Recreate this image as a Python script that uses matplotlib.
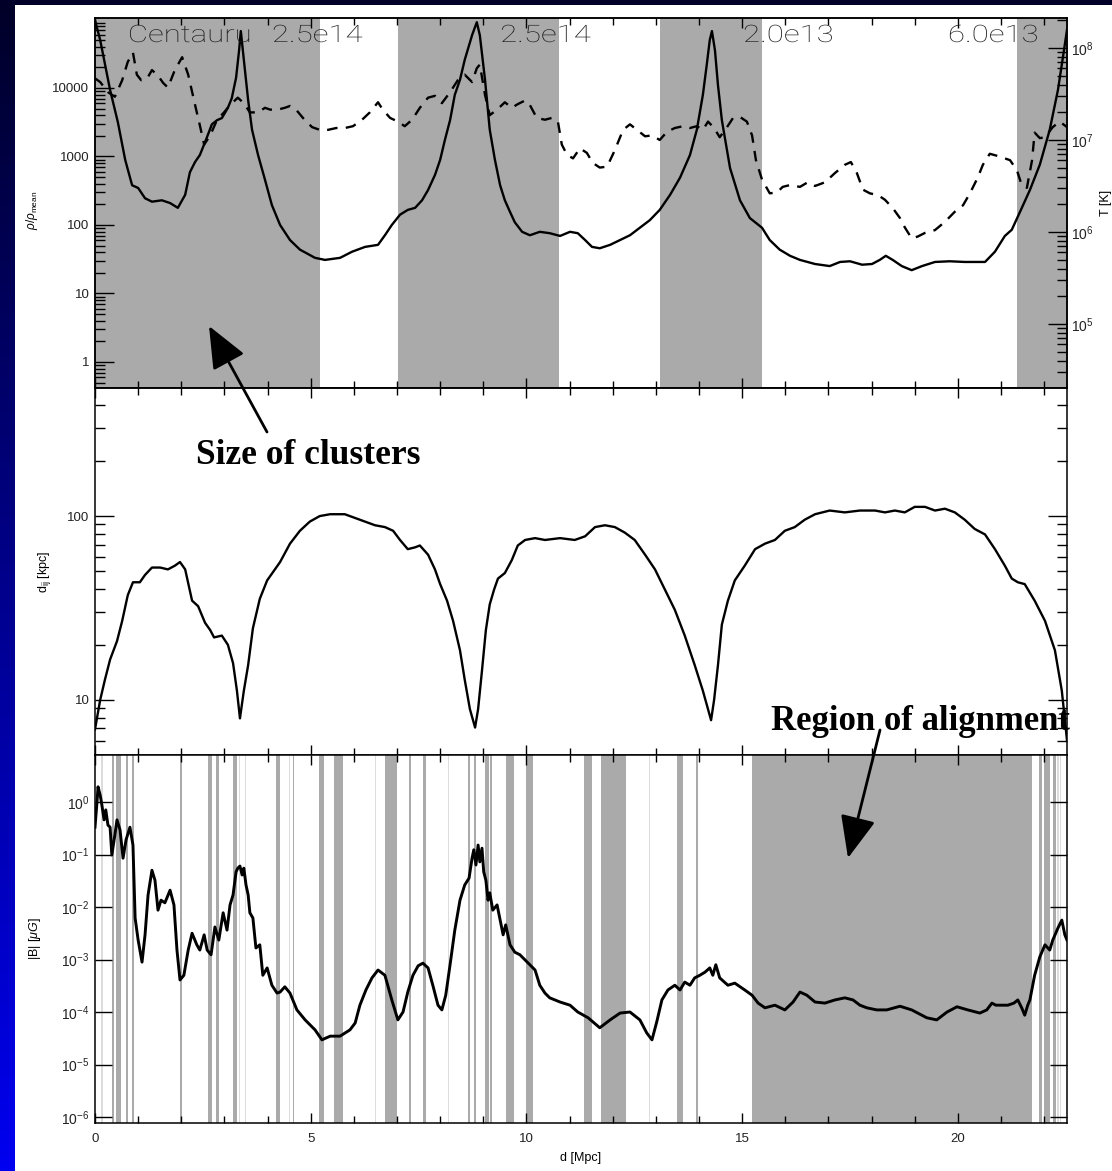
import numpy as np
import matplotlib
matplotlib.use('Agg')
import matplotlib.pyplot as plt
import matplotlib.transforms as mtransforms
from matplotlib.colors import LinearSegmentedColormap
from matplotlib.patches import Rectangle, FancyArrowPatch, PathPatch
from matplotlib.textpath import TextPath
from matplotlib.font_manager import FontProperties
from matplotlib.ticker import (MultipleLocator, LogLocator, FixedLocator, NullLocator,
                               FuncFormatter, LogFormatterMathtext, NullFormatter)

plt.rcParams['font.family'] = ['Liberation Sans', 'DejaVu Sans']
plt.rcParams['mathtext.fontset'] = 'custom'
plt.rcParams['mathtext.rm'] = 'Liberation Sans'
plt.rcParams['mathtext.it'] = 'Liberation Sans:italic'

# --- data (d in Mpc, values as log10) ---
# density rho/rho_mean (top panel, solid)
rho_d = [0, 0.12, 0.35, 0.53, 0.70, 0.86, 1.00, 1.16, 1.32, 1.55, 1.74, 1.92, 2.09, 2.20, 2.32,
         2.43, 2.57, 2.71, 2.83, 2.94, 3.08, 3.17, 3.27, 3.34, 3.38, 3.45, 3.55, 3.64, 3.78,
         3.94, 4.10, 4.29, 4.52, 4.75, 5.10, 5.33, 5.68, 5.96, 6.26, 6.56, 6.72, 6.88, 7.07,
         7.25, 7.42, 7.58, 7.72, 7.88, 8.00, 8.11, 8.23, 8.34, 8.46, 8.57, 8.74, 8.85, 8.92,
         9.04, 9.15, 9.27, 9.39, 9.50, 9.62, 9.73, 9.90, 10.08, 10.31, 10.54, 10.78, 11.01,
         11.19, 11.36, 11.52, 11.70, 11.94, 12.17, 12.40, 12.63, 12.86, 13.09, 13.33, 13.56,
         13.79, 13.95, 14.09, 14.18, 14.25, 14.30, 14.37, 14.44, 14.53, 14.72, 14.95, 15.18,
         15.46, 15.64, 15.87, 16.11, 16.34, 16.69, 17.03, 17.27, 17.50, 17.78, 18.01, 18.19,
         18.33, 18.49, 18.70, 18.93, 19.17, 19.47, 19.81, 20.16, 20.63, 20.86, 21.09, 21.25,
         21.44, 21.67, 21.90, 22.13, 22.32, 22.46, 22.53]
rho_log = [4.99, 4.70, 3.97, 3.50, 2.95, 2.58, 2.54, 2.39, 2.34, 2.36, 2.32, 2.25, 2.44, 2.77, 2.92,
           3.02, 3.24, 3.47, 3.53, 3.56, 3.71, 3.85, 4.15, 4.55, 4.83, 4.41, 3.82, 3.39, 3.02,
           2.66, 2.29, 2.00, 1.78, 1.64, 1.52, 1.49, 1.52, 1.61, 1.68, 1.71, 1.85, 2.00, 2.15,
           2.22, 2.25, 2.36, 2.51, 2.73, 2.95, 3.24, 3.53, 3.90, 4.12, 4.41, 4.77, 4.96, 4.77,
           4.12, 3.39, 2.95, 2.58, 2.36, 2.19, 2.04, 1.90, 1.85, 1.90, 1.88, 1.84, 1.90,
           1.88, 1.78, 1.68, 1.66, 1.71, 1.78, 1.85, 1.96, 2.07, 2.22, 2.44, 2.69,
           3.02, 3.39, 3.90, 4.34, 4.70, 4.83, 4.55, 4.04, 3.53, 2.83, 2.36, 2.10,
           1.96, 1.78, 1.64, 1.55, 1.49, 1.43, 1.40, 1.46, 1.47, 1.42, 1.43, 1.49,
           1.55, 1.49, 1.40, 1.34, 1.40, 1.46, 1.47, 1.46, 1.46, 1.61, 1.84, 1.93,
           2.19, 2.51, 2.88, 3.39, 3.97, 4.55, 4.85]

# temperature T [K] (top panel, dashed, right axis)
temp_d = [0, 0.12, 0.30, 0.46, 0.63, 0.76, 0.88, 0.97, 1.07, 1.21, 1.32, 1.46, 1.58, 1.69, 1.85,
          2.02, 2.16, 2.32, 2.43, 2.53, 2.67, 2.83, 2.99, 3.13, 3.31, 3.45, 3.59, 3.78, 3.94,
          4.06, 4.24, 4.40, 4.52, 4.66, 4.82, 5.03, 5.21, 5.40, 5.59, 5.79, 5.98, 6.19, 6.37,
          6.56, 6.67, 6.84, 7.02, 7.18, 7.35, 7.53, 7.72, 7.88, 8.04, 8.23, 8.41, 8.57, 8.74,
          8.85, 8.92, 9.04, 9.15, 9.32, 9.50, 9.66, 9.80, 9.97, 10.08, 10.24, 10.43, 10.59,
          10.73, 10.82, 10.94, 11.08, 11.24, 11.40, 11.54, 11.70, 11.87, 12.05, 12.24, 12.40,
          12.56, 12.75, 12.91, 13.09, 13.26, 13.44, 13.63, 13.79, 13.95, 14.09, 14.21, 14.35,
          14.48, 14.65, 14.79, 14.95, 15.11, 15.23, 15.32, 15.46, 15.64, 15.81, 15.94, 16.11,
          16.34, 16.52, 16.69, 16.92, 17.15, 17.38, 17.52, 17.66, 17.80, 17.96, 18.15, 18.31,
          18.49, 18.66, 18.77, 18.93, 19.07, 19.24, 19.47, 19.70, 19.93, 20.12, 20.28, 20.46,
          20.58, 20.74, 20.97, 21.21, 21.37, 21.48, 21.60, 21.72, 21.78, 21.90, 22.02, 22.20,
          22.36, 22.53]
temp_log = [7.67, 7.63, 7.52, 7.47, 7.65, 7.85, 7.95, 7.71, 7.65, 7.67, 7.76, 7.70, 7.62, 7.57, 7.76,
            7.90, 7.71, 7.38, 7.16, 6.95, 7.05, 7.22, 7.30, 7.38, 7.46, 7.40, 7.30, 7.30, 7.35,
            7.33, 7.33, 7.35, 7.37, 7.33, 7.24, 7.14, 7.11, 7.11, 7.13, 7.13, 7.15, 7.22, 7.30,
            7.41, 7.33, 7.24, 7.20, 7.15, 7.22, 7.35, 7.46, 7.48, 7.40, 7.52, 7.65, 7.71, 7.63,
            7.78, 7.82, 7.49, 7.27, 7.33, 7.41, 7.35, 7.39, 7.43, 7.38, 7.24, 7.22, 7.24,
            7.20, 6.95, 6.84, 6.80, 6.91, 6.86, 6.75, 6.70, 6.71, 6.89, 7.11, 7.17,
            7.11, 7.04, 7.05, 7.00, 7.09, 7.13, 7.15, 7.13, 7.15, 7.11, 7.20, 7.13,
            7.03, 7.14, 7.24, 7.25, 7.20, 7.05, 6.78, 6.57, 6.42, 6.43, 6.49, 6.51,
            6.49, 6.54, 6.50, 6.54, 6.64, 6.73, 6.76, 6.64, 6.46, 6.42, 6.40, 6.35,
            6.26, 6.15, 6.05, 5.93, 5.95, 5.99, 6.02, 6.11, 6.22, 6.29, 6.42, 6.59,
            6.73, 6.85, 6.82, 6.78, 6.67, 6.51, 6.48, 6.78, 7.08, 7.02, 7.03, 7.14,
            7.20, 7.14]

# d_ij [kpc] (middle panel)
dij_d = [0, 0.12, 0.23, 0.35, 0.51, 0.63, 0.76, 0.88, 1.04, 1.16, 1.32, 1.51, 1.69, 1.85, 1.97,
         2.09, 2.25, 2.39, 2.55, 2.67, 2.76, 2.94, 3.08, 3.20, 3.29, 3.36, 3.45, 3.55, 3.66,
         3.82, 3.99, 4.29, 4.52, 4.75, 4.98, 5.21, 5.45, 5.79, 6.14, 6.49, 6.72, 6.91, 7.07,
         7.25, 7.42, 7.53, 7.72, 7.88, 8.00, 8.16, 8.30, 8.46, 8.57, 8.69, 8.81, 8.88, 8.97,
         9.06, 9.15, 9.25, 9.34, 9.50, 9.66, 9.80, 9.97, 10.20, 10.43, 10.78, 11.12, 11.36,
         11.59, 11.82, 12.05, 12.28, 12.51, 12.75, 12.98, 13.21, 13.44, 13.67, 13.90, 14.09,
         14.28, 14.35, 14.44, 14.53, 14.67, 14.83, 15.06, 15.30, 15.53, 15.76, 15.99, 16.22,
         16.45, 16.69, 17.03, 17.38, 17.73, 18.08, 18.31, 18.54, 18.77, 19.00, 19.24, 19.47,
         19.70, 19.93, 20.16, 20.39, 20.63, 20.86, 21.09, 21.25, 21.39, 21.55, 21.78, 22.02,
         22.25, 22.41, 22.53]
dij_log = [0.84, 1.00, 1.11, 1.22, 1.32, 1.43, 1.57, 1.64, 1.64, 1.68, 1.72, 1.72, 1.71, 1.73, 1.75,
           1.71, 1.54, 1.51, 1.42, 1.38, 1.34, 1.35, 1.30, 1.20, 1.05, 0.90, 1.05, 1.19, 1.39,
           1.55, 1.65, 1.75, 1.85, 1.92, 1.97, 2.00, 2.01, 2.01, 1.98, 1.95, 1.94, 1.92, 1.87,
           1.82, 1.83, 1.84, 1.79, 1.71, 1.63, 1.54, 1.43, 1.27, 1.11, 0.95, 0.85, 0.95, 1.16,
           1.38, 1.52, 1.60, 1.66, 1.69, 1.76, 1.84, 1.87, 1.88, 1.87, 1.88, 1.87, 1.89,
           1.94, 1.95, 1.94, 1.91, 1.87, 1.79, 1.71, 1.60, 1.49, 1.35, 1.19, 1.05,
           0.89, 1.00, 1.19, 1.41, 1.54, 1.65, 1.73, 1.82, 1.85, 1.87, 1.92, 1.94,
           1.98, 2.01, 2.03, 2.02, 2.03, 2.03, 2.02, 2.03, 2.02, 2.05, 2.05, 2.03,
           2.04, 2.02, 1.98, 1.93, 1.90, 1.82, 1.73, 1.66, 1.64, 1.63, 1.54, 1.43,
           1.27, 1.05, 0.78]

# |B| [muG] (bottom panel)
b_d = [0, 0.05, 0.07, 0.12, 0.16, 0.21, 0.25, 0.30, 0.35, 0.39, 0.46, 0.51, 0.58, 0.65, 0.72,
       0.81, 0.88, 0.93, 1.00, 1.09, 1.16, 1.23, 1.32, 1.39, 1.46, 1.53, 1.62, 1.74, 1.83,
       1.90, 1.97, 2.06, 2.16, 2.25, 2.36, 2.43, 2.53, 2.60, 2.69, 2.78, 2.87, 2.97, 3.06,
       3.13, 3.20, 3.27, 3.31, 3.36, 3.41, 3.45, 3.50, 3.55, 3.59, 3.66, 3.73, 3.82, 3.89,
       3.99, 4.10, 4.22, 4.29, 4.40, 4.52, 4.68, 4.87, 5.10, 5.26, 5.45, 5.68, 5.91, 6.03,
       6.14, 6.28, 6.42, 6.56, 6.72, 6.88, 7.02, 7.14, 7.25, 7.37, 7.49, 7.60, 7.72, 7.83,
       7.95, 8.04, 8.13, 8.23, 8.34, 8.46, 8.57, 8.67, 8.74, 8.78, 8.83, 8.88, 8.92, 8.97,
       9.01, 9.06, 9.11, 9.15, 9.22, 9.32, 9.39, 9.46, 9.52, 9.62, 9.73, 9.85, 9.97, 10.08,
       10.20, 10.31, 10.43, 10.54, 10.78, 11.01, 11.19, 11.43, 11.70, 11.94, 12.17, 12.40,
       12.63, 12.79, 12.91, 13.02, 13.14, 13.28, 13.44, 13.56, 13.67, 13.79, 13.90, 14.02,
       14.14, 14.25, 14.32, 14.39, 14.48, 14.67, 14.83, 15.06, 15.23, 15.37, 15.53, 15.76,
       15.99, 16.18, 16.34, 16.50, 16.69, 16.92, 17.15, 17.38, 17.57, 17.73, 17.89, 18.12,
       18.35, 18.66, 18.93, 19.28, 19.51, 19.75, 19.98, 20.23, 20.51, 20.67, 20.79, 20.88,
       20.97, 21.16, 21.30, 21.39, 21.48, 21.55, 21.62, 21.67, 21.78, 21.90, 22.02, 22.13,
       22.20, 22.32, 22.41, 22.48, 22.53]
b_log = [-0.48, 0.04, 0.29, 0.13, -0.06, -0.34, -0.15, -0.44, -0.48, -1.01, -0.63, -0.34, -0.53, -1.07, -0.72,
         -0.48, -0.82, -2.21, -2.63, -3.05, -2.53, -1.77, -1.30, -1.49, -2.06, -1.87, -1.92, -1.68, -1.96,
         -2.82, -3.39, -3.30, -2.82, -2.50, -2.72, -2.82, -2.53, -2.82, -2.91, -2.38, -2.63, -2.11, -2.44,
         -1.96, -1.77, -1.33, -1.26, -1.22, -1.39, -1.26, -1.58, -1.77, -2.11, -2.21, -2.78, -2.72, -3.30,
         -3.16, -3.49, -3.64, -3.62, -3.52, -3.64, -3.96, -4.15, -4.34, -4.53, -4.46, -4.46, -4.34, -4.21,
         -3.87, -3.58, -3.35, -3.20, -3.30, -3.77, -4.15, -4.00, -3.62, -3.30, -3.12, -3.07, -3.16, -3.49,
         -3.87, -3.96, -3.68, -3.10, -2.44, -1.87, -1.58, -1.45, -1.07, -0.91, -1.20, -0.82, -1.14, -0.88,
         -1.33, -1.49, -1.87, -1.73, -2.06, -1.96, -2.25, -2.53, -2.34, -2.72, -2.86, -2.91, -3.01, -3.10,
         -3.20, -3.49, -3.64, -3.73, -3.81, -3.87, -4.00, -4.11, -4.30, -4.15, -4.02, -4.00,
         -4.15, -4.40, -4.53, -4.19, -3.77, -3.58, -3.49, -3.58, -3.43, -3.49, -3.35, -3.30,
         -3.24, -3.16, -3.30, -3.10, -3.35, -3.49, -3.45, -3.58, -3.68, -3.83, -3.92, -3.87,
         -3.96, -3.81, -3.62, -3.68, -3.81, -3.83, -3.77, -3.73, -3.77, -3.87, -3.92, -3.96,
         -3.96, -3.89, -3.96, -4.11, -4.15, -4.00, -3.90, -3.96, -4.02, -3.96, -3.83, -3.87,
         -3.87, -3.87, -3.83, -3.77, -3.92, -4.06, -3.87, -3.77, -3.30, -2.95, -2.72, -2.82,
         -2.63, -2.40, -2.25, -2.53, -2.63]

# cluster regions (top panel shading) and labels
cluster_spans = [(0.0, 5.21), (7.02, 10.75), (13.09, 15.46), (21.37, 22.53)]
cluster_text_x = [0.76, 4.10, 9.39, 15.02, 19.77]
cluster_text = ['Centauru', '2.5e14', '2.5e14', '2.0e13', '6.0e13']

# alignment regions (bottom panel shading); light = faint bands
align_spans = [(0.40, 0.44), (0.49, 0.60), (0.72, 0.76), (0.86, 0.90), (1.97, 2.02),
               (2.62, 2.71), (2.80, 2.87), (3.20, 3.29), (4.19, 4.29), (4.58, 4.61),
               (5.19, 5.31), (5.54, 5.75), (6.72, 7.00), (7.28, 7.32), (7.60, 7.67),
               (8.64, 8.69), (8.78, 8.83), (9.04, 9.13), (9.15, 9.20), (9.52, 9.71),
               (9.99, 10.15), (11.33, 11.52), (11.73, 12.31), (13.49, 13.63), (13.93, 13.97),
               (15.23, 21.72), (21.88, 21.95), (21.99, 22.13), (22.20, 22.27)]
align_light = [(0.15, 0.18), (3.33, 3.35), (3.47, 3.49), (4.49, 4.51), (6.50, 6.52),
               (8.19, 8.21), (8.89, 8.91), (12.85, 12.87), (22.29, 22.34), (22.37, 22.40)]

XMAX = 22.53
W, H = 1112, 1171

fig = plt.figure(figsize=(W / 100, H / 100), dpi=100)

# blue gradient frame with white page
bg = fig.add_axes([0, 0, 1, 1], zorder=-10)
cmap = LinearSegmentedColormap.from_list('frame', ['#000028', '#0000f0'])
bg.imshow(np.linspace(0, 1, 256).reshape(-1, 1), aspect='auto', cmap=cmap,
          extent=[0, 1, 0, 1], origin='upper')
bg.add_patch(Rectangle((15 / W, 0), 1, 1 - 5 / H, color='white', lw=0))
bg.set_xlim(0, 1)
bg.set_ylim(0, 1)
bg.axis('off')

L, Wd = 95 / W, 972 / W
ax1 = fig.add_axes([L, 1 - 388 / H, Wd, 370 / H])
ax2 = fig.add_axes([L, 1 - 755 / H, Wd, 367 / H], sharex=ax1)
ax3 = fig.add_axes([L, 1 - 1123 / H, Wd, 368 / H], sharex=ax1)

grey = '#aaaaaa'

for ax in (ax1, ax2, ax3):
    ax.set_xlim(0, XMAX)
    ax.xaxis.set_major_locator(MultipleLocator(5))
    ax.xaxis.set_minor_locator(MultipleLocator(1))
    for s in ax.spines.values():
        s.set_linewidth(1.1)
    ax.tick_params(axis='x', which='both', direction='in', top=True, bottom=True,
                   labelbottom=False, width=1.0)
    ax.tick_params(axis='x', which='major', length=7)
    ax.tick_params(axis='x', which='minor', length=5)
    ax.tick_params(axis='y', which='major', length=14, width=1.0, direction='in',
                   labelsize=9.5, labelcolor='#222222', pad=4)
    ax.tick_params(axis='y', which='minor', length=7, width=1.0, direction='in')

# --- top panel ---
for a, b in cluster_spans:
    ax1.axvspan(a, b, color=grey, lw=0, zorder=0)
ax1.set_yscale('log')
ax1.set_ylim(0.417, 1.05e5)
ax1.yaxis.set_major_locator(FixedLocator([1, 10, 100, 1000, 10000]))
ax1.yaxis.set_minor_locator(LogLocator(base=10, subs=np.arange(2, 10), numticks=20))
ax1.yaxis.set_major_formatter(FuncFormatter(lambda v, p: '%d' % v))
ax1.yaxis.set_minor_formatter(NullFormatter())
ax1.tick_params(axis='y', which='both', left=True, right=False)
ax1.plot(rho_d, 10 ** np.array(rho_log), color='k', lw=1.7, zorder=3)
ax1.set_ylabel(r'$\rho/\rho_{\rm mean}$', fontsize=8.5)
ax1.yaxis.set_label_coords(-0.057, 0.48)

ax1t = ax1.twinx()
ax1t.set_yscale('log')
ax1t.set_ylim(2.01e4, 2.12e8)
ax1t.yaxis.set_major_locator(FixedLocator([1e5, 1e6, 1e7, 1e8]))
ax1t.yaxis.set_minor_locator(LogLocator(base=10, subs=np.arange(2, 10), numticks=20))
ax1t.yaxis.set_major_formatter(LogFormatterMathtext())
ax1t.yaxis.set_minor_formatter(NullFormatter())
ax1t.tick_params(axis='y', which='major', length=14, width=1.0, direction='in',
                 labelsize=10, labelcolor='#222222', pad=3)
ax1t.tick_params(axis='y', which='minor', length=7, width=1.0, direction='in')
ax1t.plot(temp_d, 10 ** np.array(temp_log), color='k', lw=1.7, dashes=(4.5, 3.5))
ax1t.set_ylabel('T [K]', fontsize=9, rotation=90)
ax1t.yaxis.set_label_coords(1.034, 0.5)
for s in ax1t.spines.values():
    s.set_linewidth(1.1)

# cluster names/masses at the top: thin, wide lettering
fp = FontProperties(family='Roboto', weight='light')
base_y = ax1.transAxes.transform((0, (388 - 42) / 370))[1]
for tx, tt in zip(cluster_text_x, cluster_text):
    x_disp = ax1.transData.transform((tx, 1))[0]
    tp = TextPath((0, 0), tt, size=24, prop=fp)
    tr = mtransforms.Affine2D().scale(1.3, 1.0).translate(x_disp, base_y)
    fig.add_artist(PathPatch(tp, transform=tr, facecolor='#1a1a1a', lw=0, zorder=5))

# --- middle panel ---
ax2.set_yscale('log')
ax2.set_ylim(5.02, 497)
ax2.yaxis.set_major_locator(FixedLocator([10, 100]))
ax2.yaxis.set_minor_locator(LogLocator(base=10, subs=np.arange(2, 10), numticks=20))
ax2.yaxis.set_major_formatter(FuncFormatter(lambda v, p: '%d' % v))
ax2.yaxis.set_minor_formatter(NullFormatter())
ax2.tick_params(axis='y', which='both', left=True, right=True)
ax2.plot(dij_d, 10 ** np.array(dij_log), color='k', lw=1.7)
ax2.set_ylabel(r'd$_{\rm ij}$ [kpc]', fontsize=9)
ax2.yaxis.set_label_coords(-0.043, 0.5)

# --- bottom panel ---
for a, b in align_spans:
    ax3.axvspan(a, b, color=grey, lw=0, zorder=0)
for a, b in align_light:
    ax3.axvspan(a, b, color='#dcdcdc', lw=0, zorder=0)
ax3.set_yscale('log')
ax3.set_ylim(7.69e-7, 7.86)
ax3.yaxis.set_major_locator(FixedLocator([1e-6, 1e-5, 1e-4, 1e-3, 1e-2, 1e-1, 1e0]))
ax3.yaxis.set_minor_locator(NullLocator())
ax3.yaxis.set_major_formatter(LogFormatterMathtext())
ax3.tick_params(axis='y', which='major', left=True, right=True, length=12, labelsize=10)
ax3.tick_params(axis='x', labelbottom=True, labelsize=9.5, labelcolor='#222222', pad=7)
ax3.plot(b_d, 10 ** np.array(b_log), color='k', lw=2.1)
ax3.set_ylabel(r'|B| [$\mu G$]', fontsize=9)
ax3.yaxis.set_label_coords(-0.053, 0.5)
ax3.set_xlabel('d [Mpc]', fontsize=9, labelpad=5)

# --- annotations ---
ann_kw = dict(fontweight='bold', family=['Liberation Serif', 'DejaVu Serif'],
              color='k', ha='center', va='center')
fig.text(308 / W, 1 - 455 / H, 'Size of clusters', fontsize=25.5, **ann_kw)
fig.text(920 / W, 1 - 722 / H, 'Region of alignment', fontsize=25, **ann_kw)
for (x0, y0), (x1, y1) in [((267, 432), (209, 326)), ((880, 730), (848, 858))]:
    fig.add_artist(FancyArrowPatch((x0 / W, 1 - y0 / H), (x1 / W, 1 - y1 / H),
                                   transform=fig.transFigure,
                                   arrowstyle='-|>,head_length=1.3,head_width=0.55',
                                   mutation_scale=20, lw=2, color='k', shrinkA=0, shrinkB=0))

fig.savefig('out.png', dpi=100)
